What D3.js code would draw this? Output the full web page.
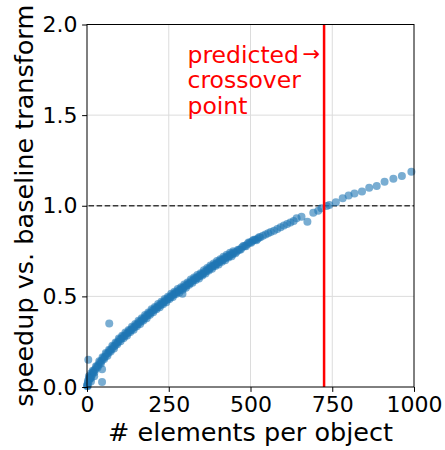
<!DOCTYPE html>
<html>
<head>
<meta charset="utf-8">
<script src="https://cdn.jsdelivr.net/npm/d3@7"></script>
<style>
  html, body { margin: 0; padding: 0; background: #fff; }
  svg { display: block; font-family: "DejaVu Sans", sans-serif; }
</style>
</head>
<body>
<svg id="chart" width="445" height="450"></svg>
<script>
// Measured speedup of the new transform relative to the baseline,
// as a function of the number of elements per object.
const elements = [
  0, 1, 2, 3, 5, 6, 8, 10, 12, 15, 18, 20, 25, 30, 35, 40, 45, 50, 55, 60,
  65, 70, 75, 80, 85, 90, 95, 100, 105, 110, 115, 120, 125, 130, 135, 140, 145, 150, 155, 160,
  165, 170, 175, 180, 185, 190, 195, 200, 205, 210, 215, 220, 225, 230, 235, 240, 245, 250, 255, 260,
  265, 270, 275, 280, 285, 290, 295, 300, 305, 310, 315, 320, 325, 330, 335, 340, 345, 350, 355, 360,
  365, 370, 375, 380, 385, 390, 395, 400, 405, 410, 415, 420, 425, 430, 435, 440, 445, 450, 458, 466,
  474, 482, 490, 498, 506, 514, 522, 530, 538, 546, 554, 562, 572, 582, 592, 602, 612, 622, 632, 641,
  656, 674, 692, 707, 717, 733, 741, 761, 782, 800, 818, 841, 863, 886, 910, 937, 963, 992,
  // isolated measurements off the main trend
  4, 46, 46, 68, 292, 12, 22
];
const speedup = [
  0.005, 0.010, 0.020, 0.035, 0.030, 0.060, 0.045, 0.052, 0.075, 0.066, 0.080, 0.087, 0.096, 0.112, 0.121, 0.137, 0.145, 0.160, 0.167, 0.182,
  0.188, 0.202, 0.208, 0.222, 0.228, 0.242, 0.248, 0.262, 0.266, 0.278, 0.282, 0.294, 0.298, 0.310, 0.314, 0.326, 0.330, 0.342, 0.346, 0.358,
  0.362, 0.374, 0.378, 0.390, 0.394, 0.406, 0.410, 0.422, 0.425, 0.436, 0.439, 0.450, 0.453, 0.464, 0.467, 0.478, 0.481, 0.492, 0.495, 0.506,
  0.509, 0.520, 0.523, 0.533, 0.535, 0.545, 0.547, 0.557, 0.560, 0.571, 0.574, 0.585, 0.588, 0.598, 0.600, 0.610, 0.612, 0.622, 0.625, 0.636,
  0.639, 0.650, 0.653, 0.663, 0.665, 0.675, 0.677, 0.687, 0.689, 0.699, 0.701, 0.711, 0.713, 0.722, 0.723, 0.732, 0.733, 0.742, 0.748, 0.757,
  0.769, 0.778, 0.788, 0.797, 0.806, 0.812, 0.818, 0.826, 0.834, 0.842, 0.848, 0.855, 0.862, 0.872, 0.882, 0.891, 0.899, 0.907, 0.916, 0.931,
  0.940, 0.912, 0.962, 0.973, 0.986, 0.999, 1.004, 1.019, 1.041, 1.056, 1.067, 1.078, 1.100, 1.109, 1.133, 1.149, 1.164, 1.188,
  0.150, 0.098, 0.028, 0.350, 0.515, 0.030, 0.060
];
// Repeated runs at intermediate sizes (same transform, same machine).
const elementsRepeat = [
  2.5, 7.5, 12.5, 17.5, 22.5, 27.5, 32.5, 37.5, 42.5, 47.5, 52.5, 57.5, 62.5, 67.5, 72.5, 77.5, 82.5, 87.5, 92.5, 97.5,
  102.5, 107.5, 112.5, 117.5, 122.5, 127.5, 132.5, 137.5, 142.5, 147.5, 152.5, 157.5, 162.5, 167.5, 172.5, 177.5, 182.5, 187.5, 192.5, 197.5,
  202.5, 207.5, 212.5, 217.5, 222.5, 227.5, 232.5, 237.5, 242.5, 247.5, 252.5, 257.5, 262.5, 267.5, 272.5, 277.5, 282.5, 287.5, 292.5, 297.5,
  302.5, 307.5, 312.5, 317.5, 322.5, 327.5, 332.5, 337.5, 342.5, 347.5, 352.5, 357.5, 362.5, 367.5, 372.5, 377.5, 382.5, 387.5, 392.5, 397.5,
  402.5, 407.5, 412.5, 417.5, 422.5, 427.5, 432.5, 437.5, 442.5, 447.5, 454, 462, 470, 478, 486, 494, 502, 510, 518, 526
];
const speedupRepeat = [
  0.006, 0.051, 0.050, 0.090, 0.080, 0.115, 0.108, 0.142, 0.129, 0.164, 0.155, 0.188, 0.173, 0.206, 0.196, 0.228, 0.213, 0.246, 0.236, 0.268,
  0.252, 0.283, 0.271, 0.301, 0.284, 0.315, 0.303, 0.333, 0.316, 0.347, 0.335, 0.365, 0.348, 0.379, 0.367, 0.397, 0.380, 0.411, 0.399, 0.429,
  0.412, 0.442, 0.429, 0.458, 0.440, 0.470, 0.457, 0.486, 0.468, 0.498, 0.485, 0.514, 0.496, 0.526, 0.513, 0.541, 0.522, 0.551, 0.537, 0.565,
  0.547, 0.577, 0.564, 0.593, 0.575, 0.604, 0.590, 0.618, 0.599, 0.628, 0.615, 0.644, 0.626, 0.656, 0.643, 0.671, 0.652, 0.681, 0.667, 0.695,
  0.676, 0.705, 0.691, 0.719, 0.700, 0.729, 0.714, 0.741, 0.721, 0.749, 0.738, 0.757, 0.758, 0.778, 0.776, 0.797, 0.796, 0.812, 0.810, 0.826
];
const xTicks = [0, 250, 500, 750, 1000];
const yTicks = [0.0, 0.5, 1.0, 1.5, 2.0];
const crossover = 725;   // predicted break-even size
const parity = 1.0;      // speedup of 1 = same speed as the baseline
const noteLines = ["predicted", "crossover", "point"];

const svg = d3.select("#chart");
const margin = { left: 87, right: 31, top: 24.5, bottom: 63 };
const W = 445, H = 450;
const x = d3.scaleLinear().domain([0, 1000]).range([margin.left, W - margin.right]);
const y = d3.scaleLinear().domain([0, 2]).range([H - margin.bottom, margin.top]);

const tickFont = 22;
const labelFont = 25.5;
const noteFont = 23.5;

// grid
const grid = svg.append("g").attr("stroke", "#dcdcdc").attr("stroke-width", 1);
grid.selectAll("line.v").data(xTicks.slice(1, -1)).join("line")
  .attr("x1", d => x(d)).attr("x2", d => x(d))
  .attr("y1", y(0)).attr("y2", y(2));
grid.selectAll("line.h").data(yTicks.slice(1, -1)).join("line")
  .attr("y1", d => y(d)).attr("y2", d => y(d))
  .attr("x1", x(0)).attr("x2", x(1000));

// parity reference line
svg.append("line")
  .attr("x1", x(0)).attr("x2", x(1000))
  .attr("y1", y(parity)).attr("y2", y(parity))
  .attr("stroke", "#3a3a3a").attr("stroke-width", 1.5)
  .attr("stroke-dasharray", "5.5,2.6").attr("stroke-dashoffset", -1.5);

// data points
const pts = elements.map((e, i) => ({ e, s: speedup[i] }))
  .concat(elementsRepeat.map((e, i) => ({ e, s: speedupRepeat[i] })));
svg.append("g").selectAll("circle").data(pts).join("circle")
  .attr("cx", d => x(d.e)).attr("cy", d => y(d.s)).attr("r", 4)
  .attr("fill", "#1f77b4").attr("fill-opacity", 0.6);

// predicted crossover marker
svg.append("line")
  .attr("x1", x(crossover)).attr("x2", x(crossover))
  .attr("y1", y(0)).attr("y2", y(2))
  .attr("stroke", "#ff0000").attr("stroke-width", 2.5);

// annotation, one text per line; the arrow points at the marker
const noteX = 187.5;
noteLines.forEach((t, i) => {
  svg.append("text")
    .attr("x", noteX).attr("y", 62.7 + i * 25.6)
    .attr("fill", "#ff0000").attr("font-size", noteFont)
    .text(t);
});
svg.append("text")
  .attr("x", x(crossover) - 4).attr("y", 60.5)
  .attr("text-anchor", "end")
  .attr("fill", "#ff0000").attr("font-size", 21)
  .text("\u2192");

// axes
const xAxis = d3.axisBottom(x).tickValues(xTicks).tickFormat(d3.format("d"))
  .tickSize(4.9).tickPadding(4.5);
const yAxis = d3.axisLeft(y).tickValues(yTicks).tickFormat(d3.format(".1f"))
  .tickSize(4.9).tickPadding(4.5);

const gx = svg.append("g").attr("transform", `translate(0,${y(0)})`).call(xAxis);
const gy = svg.append("g").attr("transform", `translate(${x(0)},0)`).call(yAxis);
[gx, gy].forEach(g => {
  g.select(".domain").remove();
  g.selectAll(".tick line").attr("stroke", "#000").attr("stroke-width", 1);
  g.selectAll(".tick text").attr("font-size", tickFont)
    .attr("font-family", "DejaVu Sans").attr("fill", "#000");
});

// frame
svg.append("rect")
  .attr("x", x(0)).attr("y", y(2))
  .attr("width", x(1000) - x(0)).attr("height", y(0) - y(2))
  .attr("fill", "none").attr("stroke", "#000").attr("stroke-width", 1);

// axis titles
svg.append("text")
  .attr("x", (x(0) + x(1000)) / 2).attr("y", 440.5)
  .attr("text-anchor", "middle").attr("font-size", labelFont)
  .text("# elements per object");
svg.append("text")
  .attr("transform", `translate(32.5,${(y(0) + y(2)) / 2}) rotate(-90)`)
  .attr("text-anchor", "middle").attr("font-size", labelFont)
  .text("speedup vs. baseline transform");
</script>
</body>
</html>
